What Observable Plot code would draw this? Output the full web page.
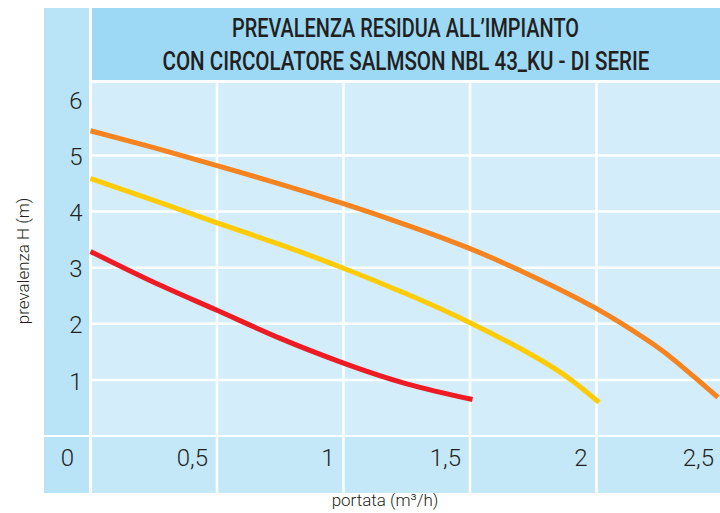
<!DOCTYPE html>
<html><head><meta charset="utf-8">
<script src="https://cdn.jsdelivr.net/npm/d3@7"></script>
<script src="https://cdn.jsdelivr.net/npm/@observablehq/plot@0.6"></script>
<style>
body{margin:0;background:#fff;}
#wrap{position:relative;width:720px;height:513px;overflow:hidden;font-family:"Roboto","Liberation Sans",sans-serif;color:#231f20;}
.panel{position:absolute;}
#title{position:absolute;left:91.5px;top:9px;width:628.5px;height:72px;display:flex;flex-direction:column;justify-content:center;align-items:center;font-weight:500;font-size:26px;line-height:33px;}
#title span{display:block;white-space:nowrap;transform-origin:center;}
#chart{position:absolute;left:0;top:0;}
</style></head>
<body><div id="wrap">
<div class="panel" style="left:44px;top:8px;width:45px;height:426.5px;background:#b9e4f8"></div>
<div class="panel" style="left:44px;top:437px;width:45px;height:56px;background:#b9e4f8"></div>
<div class="panel" style="left:91.5px;top:8px;width:628.5px;height:72px;background:#9dd9f5"></div>
<div class="panel" style="left:91.5px;top:82.5px;width:628.5px;height:352px;background:#d3eefa"></div>
<div class="panel" style="left:91.5px;top:437px;width:628.5px;height:56px;background:#c5e8f8"></div>
<div id="title"></div>
<div id="chart"></div>
</div>
<script>
const titleLines = ["PREVALENZA RESIDUA ALL\u2019IMPIANTO", "CON CIRCOLATORE SALMSON NBL 43_KU - DI SERIE"];
const yLabel = "prevalenza H (m)";
const xLabel = "portata (m\u00b3/h)";
const xTicks = [0.5, 1, 1.5, 2, 2.5];
const yTicks = [1, 2, 3, 4, 5, 6];
const xGrid = [0.5, 1, 1.5, 2];
const yGrid = [1, 2, 3, 4, 5];
const seriesNames = ["velocità 3", "velocità 2", "velocità 1"];
const seriesColors = ["#f5831f", "#ffcb05", "#ed1c24"];
const orangeX = [0, 0.25, 0.5, 0.75, 1, 1.25, 1.5, 1.75, 2, 2.2, 2.3, 2.4, 2.48];
const orangeY = [5.44, 5.14, 4.82, 4.49, 4.14, 3.76, 3.34, 2.84, 2.27, 1.71, 1.38, 1.0, 0.69];
const yellowX = [0, 0.25, 0.5, 0.75, 1, 1.25, 1.5, 1.75, 1.9, 2.01];
const yellowY = [4.59, 4.2, 3.8, 3.41, 2.99, 2.53, 2.02, 1.43, 1.0, 0.6];
const redX = [0, 0.25, 0.5, 0.75, 1, 1.25, 1.51];
const redY = [3.29, 2.74, 2.24, 1.74, 1.3, 0.93, 0.65];

const rows = [];
[[orangeX, orangeY], [yellowX, yellowY], [redX, redY]].forEach(([xs, ys], i) => {
  xs.forEach((x, j) => rows.push({series: seriesNames[i], x, y: ys[j]}));
});
const fmt = d => String(d).replace(".", ",");

const title = document.getElementById("title");
titleLines.forEach(t => { const s = document.createElement("span"); s.textContent = t; title.appendChild(s); });

const font = '"Roboto","Liberation Sans",sans-serif';
const chart = Plot.plot({
  width: 720, height: 513,
  marginLeft: 91, marginRight: 0, marginTop: 82, marginBottom: 20,
  style: {background: "transparent", fontFamily: font, color: "#231f20"},
  x: {domain: [0, 2.5], range: [90, 722.5], axis: null},
  y: {domain: [0, 6.3], range: [435.5, 82], axis: null},
  color: {domain: seriesNames, range: seriesColors},
  marks: [
    Plot.gridY(yGrid, {stroke: "white", strokeOpacity: 1, strokeWidth: 2.5}),
    Plot.ruleX(xGrid, {stroke: "white", strokeWidth: 2.5}),
    Plot.line(rows, {x: "x", y: "y", z: "series", stroke: "series", strokeWidth: 5, curve: "natural", strokeLinecap: "butt"}),
    Plot.axisY({ticks: yTicks, tickSize: 0, tickPadding: 9, fontSize: 24, fontWeight: 300, label: null, tickFormat: fmt, dy: 2}),
    Plot.text(xTicks, {x: d => d, text: fmt, frameAnchor: "bottom", dy: -28, dx: -9, textAnchor: "end", fontSize: 24, fontWeight: 300}),
    Plot.text(["0"], {text: d => d, frameAnchor: "bottom-left", textAnchor: "middle", dx: -24, dy: -28, fontSize: 24, fontWeight: 300}),
    Plot.text([yLabel], {text: d => d, frameAnchor: "left", textAnchor: "middle", rotate: -90, dx: -68, dy: -27, fontSize: 17, fontWeight: 300}),
    Plot.text([xLabel], {text: d => d, frameAnchor: "bottom", textAnchor: "middle", dx: -21, dy: 12, fontSize: 17, fontWeight: 300})
  ]
});
document.getElementById("chart").appendChild(chart);

// fit title lines to the reference widths (condensed face)
const targets = [347, 487];
title.querySelectorAll("span").forEach((s, i) => {
  const w = s.getBoundingClientRect().width;
  s.style.transform = `scaleX(${targets[i] / w})`;
});
</script>
</body></html>
